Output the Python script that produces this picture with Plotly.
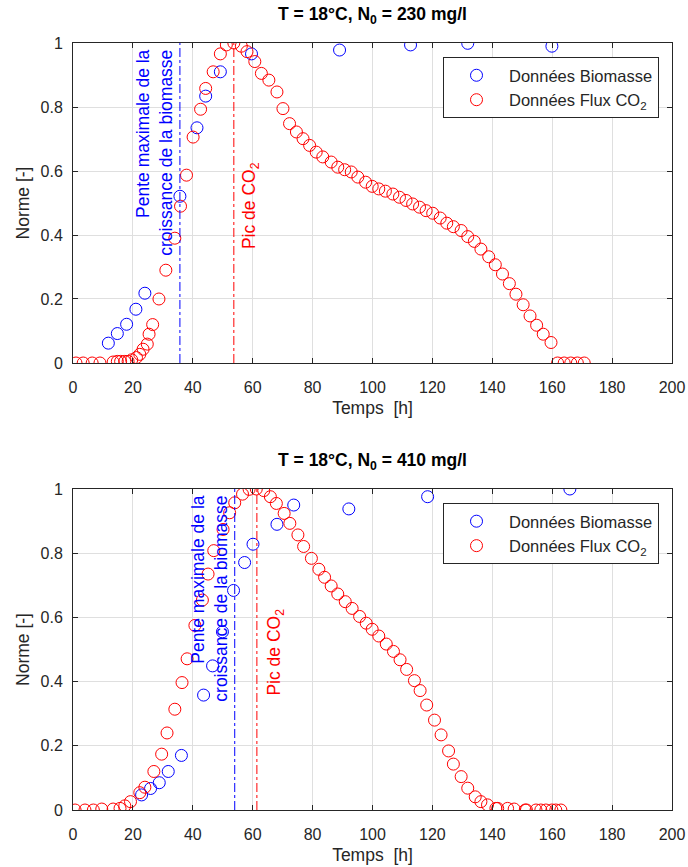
import plotly.graph_objects as go

# ---------------- Data: top panel (N0 = 230 mg/l) ----------------
top_co2_t = [1, 3.4, 6.4, 9, 13.4, 14.8, 15.9, 17.3, 18.4, 19.6, 21.2, 22.3, 23.4, 24.8, 25.4,
             26.6, 28.7, 31, 34, 35.9, 37.9, 40.1, 42.6, 44.3, 46.8, 49.2, 51.2, 53.7, 56.2,
             58.1, 60.7, 62.9, 65.4, 68.1, 70.1, 72.3, 74.6, 76.8, 79, 81.2, 83.4, 86.2, 88.4,
             90.7, 92.9, 95.1, 97.7, 99.9, 102.1, 104.3, 106.8, 109, 111.2, 113.4, 115.7,
             117.9, 120.1, 122.6, 124.8, 127, 129.6, 131.8, 134, 136.2, 138.8, 141, 143.4,
             145.7, 147.9, 150.3, 152.6, 154.8, 157, 159.6, 161.8, 164, 166.2, 168.4, 170.7]
top_co2_v = [0, 0, 0, 0, 0.003, 0.005, 0.005, 0.005, 0.005, 0.01, 0.017, 0.027, 0.043, 0.059,
             0.09, 0.12, 0.2, 0.29, 0.39, 0.49, 0.587, 0.706, 0.793, 0.858, 0.91, 0.966, 0.994,
             1.0, 0.99, 0.973, 0.942, 0.905, 0.884, 0.847, 0.795, 0.748, 0.722, 0.701, 0.680,
             0.659, 0.644, 0.628, 0.612, 0.604, 0.597, 0.581, 0.565, 0.552, 0.544, 0.537, 0.528,
             0.518, 0.508, 0.497, 0.487, 0.476, 0.468, 0.453, 0.437, 0.426, 0.414, 0.395, 0.380,
             0.356, 0.332, 0.307, 0.278, 0.248, 0.215, 0.182, 0.147, 0.118, 0.09, 0.064,
             0, 0, 0, 0, 0]
top_bio_t = [11.8, 14.8, 17.9, 21, 24, 35.7, 41.4, 44.3, 49.2, 59.6, 89, 112.7, 131.8, 159.9]
top_bio_v = [0.062, 0.092, 0.121, 0.168, 0.218, 0.521, 0.735, 0.834, 0.910, 0.966, 0.978,
             0.994, 0.999, 0.99]
top_slope_t = 35.7
top_peak_t = 53.7

# ---------------- Data: bottom panel (N0 = 410 mg/l) ----------------
bot_co2_t = [0.7, 4, 6.8, 9.6, 13.4, 15.7, 17.3, 19.2, 22.3, 24, 27, 29.6, 31.4, 34, 36.4,
             38.1, 40.7, 43.2, 45.1, 47, 50.1, 52.3, 54, 56.6, 58.8, 61.2, 63.7, 65.9, 67.9,
             70.5, 72.4, 75.1, 77, 79.6, 82.1, 84, 86.2, 88.4, 90.9, 93.2, 95.7, 97.9, 99.9,
             102.1, 104.6, 107, 109.2, 111.4, 114, 115.9, 118.1, 120.7, 122.9, 125.4, 127,
             129.6, 131.8, 134.3, 136.2, 138.4, 141.2, 141.8, 145.1, 147.3, 151, 151.4, 154.6,
             156.2, 157.9, 159.9, 161.2, 162.9]
bot_co2_v = [0, 0, 0, 0.003, 0.003, 0.005, 0.013, 0.026, 0.054, 0.071, 0.12, 0.174, 0.24,
             0.314, 0.397, 0.471, 0.575, 0.654, 0.735, 0.808, 0.874, 0.926, 0.957, 0.984, 0.999,
             1.0, 0.995, 0.976, 0.955, 0.924, 0.893, 0.857, 0.821, 0.784, 0.750, 0.725, 0.698,
             0.673, 0.649, 0.628, 0.603, 0.582, 0.563, 0.542, 0.517, 0.494, 0.468, 0.438, 0.403,
             0.372, 0.327, 0.280, 0.234, 0.184, 0.143, 0.104, 0.068, 0.041, 0.026, 0.016, 0.005,
             0.005, 0.005, 0.003, 0, 0, 0, 0, 0, 0, 0, 0]
bot_bio_t = [22.9, 25.9, 28.8, 31.8, 36.2, 43.6, 46.6, 49.9, 53.6, 57.3, 60.1, 68.1, 73.7,
             92.1, 118.4, 165.9]
bot_bio_v = [0.047, 0.067, 0.085, 0.12, 0.17, 0.358, 0.449, 0.555, 0.684, 0.771, 0.828, 0.89,
             0.95, 0.938, 0.976, 1.0]
bot_slope_t = 54
bot_peak_t = 61.4

titles = ["<b>T = 18°C, N<sub>0</sub> = 230 mg/l</b>", "<b>T = 18°C, N<sub>0</sub> = 410 mg/l</b>"]
x_ticks = list(range(0, 201, 20))
y_ticks = [0, 0.2, 0.4, 0.6, 0.8, 1]
name_bio = "Données Biomasse"
name_co2 = "Données Flux CO<sub>2</sub>"
txt_slope = "Pente maximale de la<br>croissance de la biomasse"
txt_peak = "Pic de CO<sub>2</sub>"

BLUE = "#0000ff"
RED = "#ff0000"
TXT = "#262626"
FONT = "Liberation Sans, Arial, sans-serif"

fig = go.Figure()

panels = [
    dict(co2_t=top_co2_t, co2_v=top_co2_v, bio_t=top_bio_t, bio_v=top_bio_v,
         slope=top_slope_t, peak=top_peak_t, xa="x", ya="y", legend="legend",
         slope_txt_x=27.4, peak_txt_x=59.3),
    dict(co2_t=bot_co2_t, co2_v=bot_co2_v, bio_t=bot_bio_t, bio_v=bot_bio_v,
         slope=bot_slope_t, peak=bot_peak_t, xa="x2", ya="y2", legend="legend2",
         slope_txt_x=45.7, peak_txt_x=67.6),
]

marker_common = dict(symbol="circle-open", size=12)

for p in panels:
    fig.add_trace(go.Scatter(x=p["bio_t"], y=p["bio_v"], mode="markers", name=name_bio,
                             marker=dict(color=BLUE, line=dict(width=1, color=BLUE), **marker_common),
                             xaxis=p["xa"], yaxis=p["ya"], legend=p["legend"]))
    fig.add_trace(go.Scatter(x=p["co2_t"], y=p["co2_v"], mode="markers", name=name_co2,
                             marker=dict(color=RED, line=dict(width=1, color=RED), **marker_common),
                             xaxis=p["xa"], yaxis=p["ya"], legend=p["legend"]))
    fig.add_trace(go.Scatter(x=[p["slope"], p["slope"]], y=[0, 1], mode="lines",
                             line=dict(color=BLUE, width=1, dash="dashdot"), showlegend=False,
                             xaxis=p["xa"], yaxis=p["ya"], hoverinfo="skip"))
    fig.add_trace(go.Scatter(x=[p["peak"], p["peak"]], y=[0, 1], mode="lines",
                             line=dict(color=RED, width=1, dash="dashdot"), showlegend=False,
                             xaxis=p["xa"], yaxis=p["ya"], hoverinfo="skip"))
    fig.add_annotation(x=p["slope_txt_x"], y=0.985, xref=p["xa"], yref=p["ya"], text=txt_slope,
                       textangle=-90, showarrow=False, xanchor="center", yanchor="top",
                       align="right", font=dict(color=BLUE, size=17.5, family=FONT))
    fig.add_annotation(x=p["peak_txt_x"], y=0.35, xref=p["xa"], yref=p["ya"], text=txt_peak,
                       textangle=-90, showarrow=False, xanchor="center", yanchor="bottom",
                       font=dict(color=RED, size=17.5, family=FONT))

# titles
fig.add_annotation(x=0.5, y=1.0365, xref="paper", yref="paper", text=titles[0], showarrow=False,
                   xanchor="center", yanchor="middle", font=dict(size=17.5, color="black", family=FONT))
fig.add_annotation(x=0.5, y=0.455, xref="paper", yref="paper", text=titles[1], showarrow=False,
                   xanchor="center", yanchor="middle", font=dict(size=17.5, color="black", family=FONT))

axis_common = dict(showline=True, linecolor=TXT, linewidth=1, mirror="ticks", ticks="inside",
                   ticklen=5, tickcolor=TXT, showgrid=True, gridcolor="#dfdfdf", gridwidth=1,
                   zeroline=False, automargin=False, tickfont=dict(size=16, color=TXT, family=FONT))

xcommon = dict(axis_common, range=[0, 200], tickvals=x_ticks, ticklabelstandoff=10,
               title=dict(text="Temps  [h]", font=dict(size=17.5, color=TXT, family=FONT), standoff=6))
ycommon = dict(axis_common, range=[0, 1], tickvals=y_ticks, ticklabelstandoff=6,
               title=dict(text="Norme [-]", font=dict(size=17.5, color=TXT, family=FONT), standoff=6))

fig.update_layout(
    width=688, height=867,
    margin=dict(l=73, r=16, t=43, b=57, autoexpand=False),
    paper_bgcolor="white", plot_bgcolor="white",
    font=dict(family=FONT, color=TXT),
    xaxis=dict(xcommon, domain=[0, 1], anchor="y"),
    yaxis=dict(ycommon, domain=[0.5828, 1], anchor="x"),
    xaxis2=dict(xcommon, domain=[0, 1], anchor="y2"),
    yaxis2=dict(ycommon, domain=[0, 0.4185], anchor="x2"),
    legend=dict(x=0.6177, y=0.9817, xanchor="left", yanchor="top", bgcolor="white",
                bordercolor=TXT, borderwidth=1, font=dict(size=16.5, color=TXT, family=FONT),
                itemwidth=55, tracegroupgap=0),
    legend2=dict(x=0.6177, y=0.4003, xanchor="left", yanchor="top", bgcolor="white",
                 bordercolor=TXT, borderwidth=1, font=dict(size=16.5, color=TXT, family=FONT),
                 itemwidth=55, tracegroupgap=0),
    showlegend=True,
)

fig.write_html("out.html")
